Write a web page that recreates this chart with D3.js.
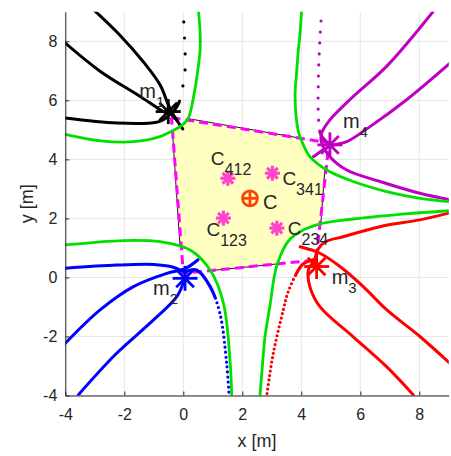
<!DOCTYPE html>
<html>
<head>
<meta charset="utf-8">
<script src="https://cdnjs.cloudflare.com/ajax/libs/d3/7.8.5/d3.min.js"></script>
<style>
  body { margin: 0; background: #fff; }
  svg { display: block; font-family: "Liberation Sans", Arial, sans-serif; }
</style>
</head>
<body>
<svg id="chart" width="451" height="456"></svg>
<script>
var xTicks = [-4, -2, 0, 2, 4, 6, 8];
var yTicks = [-4, -2, 0, 2, 4, 6, 8];

// microphones (true positions) and the corners of the estimated quadrilateral
var mics = [
  {name: "m", sub: "1", x: -0.51, y: 5.62, color: "#000000"},
  {name: "m", sub: "2", x: 0.06, y: -0.03, color: "#0000ff"},
  {name: "m", sub: "3", x: 4.52, y: 0.37, color: "#ff0000"},
  {name: "m", sub: "4", x: 4.97, y: 4.49, color: "#c000c0"}
];
var quad = [[-0.40, 5.42], [4.94, 4.56], [4.50, 0.59], [0.0, 0.14], [-0.40, 5.42]];

// intersection region
var region = [[0.17, 5.38], [3.96, 4.72], [4.29, 4.09], [4.80, 3.68], [4.66, 1.80], [4.1, 1.62],
  [3.62, 1.3], [3.3, 0.8], [3.2, 0.46], [0.92, 0.23], [0.6, 0.62], [0.23, 0.93], [-0.11, 1.04],
  [-0.37, 4.98], [-0.05, 5.15]];

// green curves
var green1 = [[0.51, 9.07], [0.57, 8.29], [0.57, 7.72], [0.51, 7.16], [0.38, 6.3], [0.17, 5.4],
  [-0.05, 5.15], [-0.34, 4.98], [-0.79, 4.77], [-1.69, 4.6], [-2.81, 4.63], [-4, 4.85]];
var green2 = [[4.01, 9.07], [3.96, 8.3], [3.9, 7.72], [3.83, 6.8], [3.79, 6.26], [3.82, 5.5],
  [3.9, 4.95], [3.98, 4.7], [4.29, 4.09], [4.86, 3.64], [5.76, 3.25], [6.89, 2.91], [8.03, 2.68], [9.0, 2.57]];
var green3 = [[2.6, -3.99], [2.68, -3.0], [2.77, -2.0], [2.94, -0.95], [3.17, 0.4], [3.62, 1.3],
  [4.41, 1.75], [5.76, 1.98], [7.5, 2.15], [9.0, 2.26]];
var green4 = [[-4, 1.1], [-2.03, 1.25], [-0.79, 1.21], [0.23, 0.93], [0.91, 0.25], [1.36, -0.87],
  [1.59, -2.91], [1.64, -3.98]];

// black (m1)
var black1 = [[-3.04, 9.07], [-2.14, 8.2], [-1.35, 7.3], [-0.78, 6.51], [-0.5, 5.83], [-0.3, 5.45], [-0.02, 5.03]];
var black2 = [[-4, 7.94], [-2.81, 6.98], [-1.46, 6.13], [-0.78, 5.68], [-0.5, 5.5], [-0.62, 5.38],
  [-0.9, 5.26], [-2.25, 5.23], [-4, 5.4]];
var blackDots = [[-0.39, 5.57], [-0.22, 5.79], [-0.11, 6.02], [-0.05, 6.24], [0.0, 6.58], [0.06, 7.03],
  [0.06, 7.71], [0.03, 8.33], [0.0, 9.01]];

// blue (m2)
var blue1 = [[-4, 0.31], [-2.25, 0.42], [-1.0, 0.44], [-0.4, 0.36], [0.0, 0.2]];
var blue2 = [[-4, -2.23], [-2.82, -1.1], [-1.69, -0.31], [-0.56, 0.14], [0.06, 0.3], [0.5, 0.6]];
var blue3 = [[-3.56, -3.98], [-2.26, -2.57], [-1.13, -1.55], [-0.22, -0.65], [0.03, -0.1]];
var blueDots = [[0.1, 0.2], [0.45, 0.25], [0.91, -0.31], [1.24, -1.21], [1.47, -2.91], [1.55, -3.98]];

// red (m3)
var red1 = [[4.45, 0.5], [4.55, 0.93], [4.8, 1.2], [5.42, 1.38], [6.66, 1.72], [8.02, 1.95], [9.0, 2.18]];
var red2 = [[9.04, -2.91], [8.03, -2.01], [6.9, -1.1], [6.1, -0.31], [5.31, 0.37], [4.63, 0.82], [3.96, 1.04]];
var red3 = [[4.35, 0.45], [4.24, 0.25], [4.29, -0.31], [4.63, -0.99], [5.76, -2.01], [6.89, -3.02], [7.8, -3.98]];
var redDots = [[4.4, 0.6], [4.05, 0.45], [3.84, 0.14], [3.55, -0.5], [3.39, -1.1], [3.05, -2.57], [2.83, -4.0]];

// magenta (m4)
var mag1 = [[8.47, 9.01], [6.89, 7.15], [5.76, 6.13], [4.97, 5.34], [4.69, 4.89], [4.68, 4.6],
  [4.97, 4.09], [5.54, 3.64], [6.67, 3.25], [8.02, 2.85], [9.04, 2.63]];
var mag2 = [[9.04, 7.26], [7.57, 6.02], [6.33, 5.11], [5.54, 4.6], [4.97, 4.45], [4.41, 4.09]];
var magDots = [[4.8, 4.6], [4.64, 4.9], [4.58, 5.45], [4.58, 6.81], [4.63, 8.05], [4.69, 9.01]];

// partial centroids and the final estimate
var centroids = [
  {name: "C", sub: "412", x: 1.51, y: 3.36, dx: -17, dy: -13},
  {name: "C", sub: "341", x: 3.02, y: 3.53, dx: 10, dy: 12},
  {name: "C", sub: "123", x: 1.36, y: 2.01, dx: -17, dy: 18},
  {name: "C", sub: "234", x: 3.17, y: 1.67, dx: 11, dy: 7}
];
var center = {name: "C", x: 2.26, y: 2.68};

var micLabelOffsets = [[-29, -14], [-32, 17], [15, 17], [13, -17]];

var margin = {left: 65.3, right: 2.2, top: 11.8, bottom: 60.5};
var svg = d3.select("#chart");
var W = +svg.attr("width"), H = +svg.attr("height");

var x = d3.scaleLinear().domain([-4, 9]).range([margin.left, W - margin.right]);
var y = d3.scaleLinear().domain([-4, 9]).range([H - margin.bottom, margin.top]);

var line = d3.line()
  .x(function(d) { return x(d[0]); })
  .y(function(d) { return y(d[1]); })
  .curve(d3.curveCatmullRom.alpha(0.5));
var straight = d3.line()
  .x(function(d) { return x(d[0]); })
  .y(function(d) { return y(d[1]); });

svg.append("defs").append("clipPath").attr("id", "clip")
  .append("rect")
  .attr("x", x(-4)).attr("y", y(9))
  .attr("width", x(9) - x(-4)).attr("height", y(-4) - y(9));

// grid
var grid = svg.append("g");
grid.selectAll(".gx").data(xTicks).enter().append("line")
  .attr("x1", function(d) { return x(d); }).attr("x2", function(d) { return x(d); })
  .attr("y1", y(-4)).attr("y2", y(9))
  .attr("stroke", "#e6e6e6").attr("stroke-width", 1);
grid.selectAll(".gy").data(yTicks).enter().append("line")
  .attr("y1", function(d) { return y(d); }).attr("y2", function(d) { return y(d); })
  .attr("x1", x(-4)).attr("x2", x(9))
  .attr("stroke", "#e6e6e6").attr("stroke-width", 1);

var plot = svg.append("g").attr("clip-path", "url(#clip)");

// yellow region
plot.append("path")
  .datum(region)
  .attr("d", d3.line().x(function(d) { return x(d[0]); }).y(function(d) { return y(d[1]); })
    .curve(d3.curveLinearClosed))
  .attr("fill", "#ffffc2")
  .attr("stroke", "#000")
  .attr("stroke-width", 0.9);

// magenta dashed quadrilateral
plot.append("path")
  .datum(quad)
  .attr("d", straight)
  .attr("fill", "none")
  .attr("stroke", "#ff00ff")
  .attr("stroke-width", 3)
  .attr("stroke-dasharray", "9,5");

function curve(data, color, width) {
  plot.append("path")
    .datum(data)
    .attr("d", line)
    .attr("fill", "none")
    .attr("stroke", color)
    .attr("stroke-width", width)
    .attr("stroke-linecap", "round")
    .attr("stroke-linejoin", "round");
}
// dotted curve, drawn dense (solid) for the first `solid` px next to the mic
function dotted(data, color, gap, solid) {
  var p = plot.append("path")
    .datum(data)
    .attr("d", line)
    .attr("fill", "none")
    .attr("stroke", color)
    .attr("stroke-width", 3.2)
    .attr("stroke-linecap", "round");
  var len = p.node().getTotalLength();
  var dash = [solid, gap];
  for (var s = solid + gap; s < len + gap; s += gap) dash.push(0, gap);
  p.attr("stroke-dasharray", dash.join(","));
}

curve(black1, "#000", 3);
curve(black2, "#000", 3);
dotted(blackDots, "#000", 16, 14);
curve(blue1, "#0000ff", 3);
curve(blue2, "#0000ff", 3);
curve(blue3, "#0000ff", 3);
dotted(blueDots, "#0000ff", 5, 45);
curve(red1, "#ff0000", 3);
curve(red2, "#ff0000", 3);
curve(red3, "#ff0000", 3);
dotted(redDots, "#ff0000", 4.5, 25);
curve(mag1, "#c000c0", 3);
curve(mag2, "#c000c0", 3);
dotted(magDots, "#c000c0", 11, 12);

curve(green1, "#00e000", 2.8);
curve(green2, "#00e000", 2.8);
curve(green3, "#00e000", 2.8);
curve(green4, "#00e000", 2.8);

function asterisk(g, cx, cy, r, color, width) {
  [0, 45, 90, 135].forEach(function(a) {
    var rad = a * Math.PI / 180;
    g.append("line")
      .attr("x1", cx - r * Math.cos(rad)).attr("y1", cy - r * Math.sin(rad))
      .attr("x2", cx + r * Math.cos(rad)).attr("y2", cy + r * Math.sin(rad))
      .attr("stroke", color).attr("stroke-width", width);
  });
}

var marks = svg.append("g");
centroids.forEach(function(c) {
  asterisk(marks, x(c.x), y(c.y), 7.5, "#ff44cc", 3.2);
});
marks.append("circle")
  .attr("cx", x(center.x)).attr("cy", y(center.y)).attr("r", 7.5)
  .attr("fill", "none").attr("stroke", "#ff4500").attr("stroke-width", 2.8);
marks.append("line")
  .attr("x1", x(center.x) - 7.5).attr("x2", x(center.x) + 7.5)
  .attr("y1", y(center.y)).attr("y2", y(center.y))
  .attr("stroke", "#ff4500").attr("stroke-width", 2.8);
marks.append("line")
  .attr("x1", x(center.x)).attr("x2", x(center.x))
  .attr("y1", y(center.y) - 7.5).attr("y2", y(center.y) + 7.5)
  .attr("stroke", "#ff4500").attr("stroke-width", 2.8);

mics.forEach(function(m) {
  asterisk(marks, x(m.x), y(m.y), 12.5, m.color, 2.8);
});

// labels
function subLabel(px, py, main, sub, mainSize, subSize, shift) {
  var t = svg.append("text")
    .attr("x", px).attr("y", py)
    .attr("fill", "#262626")
    .attr("font-size", mainSize + "px");
  t.append("tspan").text(main);
  t.append("tspan").attr("font-size", subSize + "px").attr("dy", shift).text(sub);
}
mics.forEach(function(m, i) {
  subLabel(x(m.x) + micLabelOffsets[i][0], y(m.y) + micLabelOffsets[i][1], m.name, m.sub, 20, 15, 9);
});
centroids.forEach(function(c) {
  subLabel(x(c.x) + c.dx, y(c.y) + c.dy, c.name, c.sub, 19, 16, 10);
});
svg.append("text")
  .attr("x", x(center.x) + 13).attr("y", y(center.y) + 11)
  .attr("fill", "#262626").attr("font-size", "20px")
  .text(center.name);

// axes
var fmt = function(d) { return String(d); };
var xAxis = svg.append("g")
  .attr("transform", "translate(0," + y(-4) + ")")
  .call(d3.axisBottom(x).tickValues(xTicks).tickFormat(fmt).tickSize(-4).tickPadding(13).tickSizeOuter(0));
var yAxis = svg.append("g")
  .attr("transform", "translate(" + x(-4) + ",0)")
  .call(d3.axisLeft(y).tickValues(yTicks).tickFormat(fmt).tickSize(-4).tickPadding(8).tickSizeOuter(0));
[xAxis, yAxis].forEach(function(a) {
  a.select(".domain").attr("stroke", "#262626");
  a.selectAll(".tick line").attr("stroke", "#262626");
  a.selectAll("text").attr("fill", "#262626").attr("font-size", "16px")
    .attr("font-family", "Liberation Sans, Arial, sans-serif");
});

svg.append("text")
  .attr("x", (x(-4) + x(9)) / 2).attr("y", 446.5)
  .attr("text-anchor", "middle").attr("fill", "#262626").attr("font-size", "18px")
  .text("x [m]");
svg.append("text")
  .attr("transform", "translate(33," + (y(-4) + y(9)) / 2 + ") rotate(-90)")
  .attr("text-anchor", "middle").attr("fill", "#262626").attr("font-size", "18px")
  .text("y [m]");
</script>
</body>
</html>
